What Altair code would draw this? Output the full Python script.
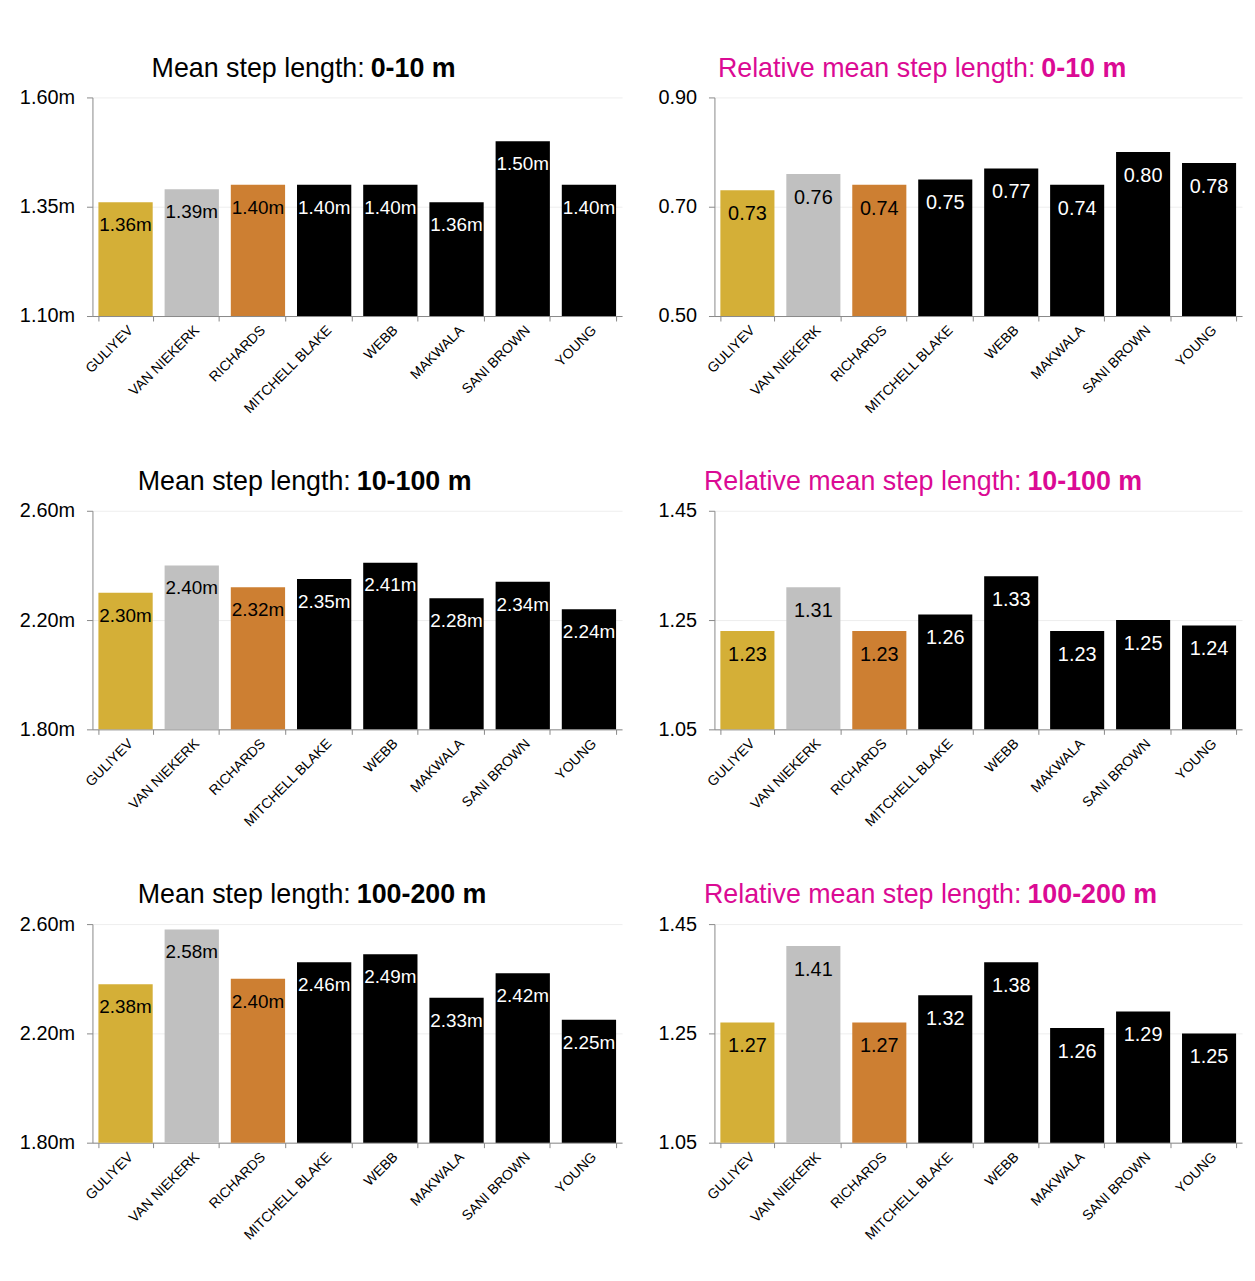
import altair as alt
import pandas as pd

players = ["GULIYEV", "VAN NIEKERK", "RICHARDS", "MITCHELL BLAKE",
           "WEBB", "MAKWALA", "SANI BROWN", "YOUNG"]
bar_colors = ["#D4AF37", "#C0C0C0", "#CD7F32", "#000000",
              "#000000", "#000000", "#000000", "#000000"]
text_colors = ["#000000", "#000000", "#000000", "#FFFFFF",
               "#FFFFFF", "#FFFFFF", "#FFFFFF", "#FFFFFF"]

msl_0_10 = [1.36, 1.39, 1.40, 1.40, 1.40, 1.36, 1.50, 1.40]
rel_0_10 = [0.73, 0.76, 0.74, 0.75, 0.77, 0.74, 0.80, 0.78]
msl_10_100 = [2.30, 2.40, 2.32, 2.35, 2.41, 2.28, 2.34, 2.24]
rel_10_100 = [1.23, 1.31, 1.23, 1.26, 1.33, 1.23, 1.25, 1.24]
msl_100_200 = [2.38, 2.58, 2.40, 2.46, 2.49, 2.33, 2.42, 2.25]
rel_100_200 = [1.27, 1.41, 1.27, 1.32, 1.38, 1.26, 1.29, 1.25]

abs_ticks_0_10 = [1.10, 1.35, 1.60]
abs_ticks = [1.80, 2.20, 2.60]
rel_ticks_0_10 = [0.50, 0.70, 0.90]
rel_ticks = [1.05, 1.25, 1.45]

FONT = "Liberation Sans"
PINK = "#DB0A94"


def panel(values, ticks, suffix, t_normal, t_bold, t_color, split_x,
          label_size, label_dy, width, height):
    df = pd.DataFrame({
        "player": players,
        "value": values,
        "color": bar_colors,
        "tcolor": text_colors,
        "label": [f"{v:.2f}{suffix}" for v in values],
        "base": [ticks[0]] * len(values),
    })
    xenc = alt.X(
        "player:N", sort=players, title=None,
        scale=alt.Scale(paddingInner=0.18, paddingOuter=0.09),
        axis=alt.Axis(labelAngle=-45, labelFontSize=14, labelFont=FONT,
                      labelColor="#000000", tickBand="extent", tickSize=5,
                      tickColor="#888888", domainColor="#888888",
                      labelPadding=2, grid=False),
    )
    yenc = alt.Y(
        "value:Q", title=None,
        scale=alt.Scale(domain=[ticks[0], ticks[-1]], nice=False, zero=False),
        axis=alt.Axis(values=ticks,
                      labelExpr=f"format(datum.value, '.2f') + '{suffix}'",
                      labelFontSize=20, labelFont=FONT, labelColor="#000000",
                      tickSize=6, tickColor="#888888", domainColor="#888888",
                      labelPadding=12, grid=True, gridColor="#EEEEEE"),
    )
    base = alt.Chart(df)
    bars = base.mark_bar().encode(
        x=xenc, y=yenc, y2="base:Q",
        color=alt.Color("color:N", scale=None),
    )
    labels = base.mark_text(baseline="middle", dy=label_dy,
                            fontSize=label_size, font=FONT).encode(
        x=alt.X("player:N", sort=players),
        y=alt.Y("value:Q"),
        text="label:N",
        color=alt.Color("tcolor:N", scale=None),
    )
    tn = alt.Chart(pd.DataFrame({"t": [t_normal]})).mark_text(
        align="right", baseline="middle", fontSize=27, font=FONT,
        color=t_color).encode(
        text="t:N", x=alt.value(split_x - 3), y=alt.value(-29))
    tb = alt.Chart(pd.DataFrame({"t": [t_bold]})).mark_text(
        align="left", baseline="middle", fontSize=27, font=FONT,
        fontWeight="bold", color=t_color).encode(
        text="t:N", x=alt.value(split_x + 3), y=alt.value(-29))
    return alt.layer(bars, labels, tn, tb).properties(width=width, height=height)


LW, RW, H = 533, 531, 220

row1 = alt.hconcat(
    panel(msl_0_10, abs_ticks_0_10, "m", "Mean step length:", "0-10 m",
          "#000000", 277, 19, 23, LW, H),
    panel(rel_0_10, rel_ticks_0_10, "", "Relative mean step length:", "0-10 m",
          PINK, 326, 20, 24, RW, H),
    spacing=36,
)
row2 = alt.hconcat(
    panel(msl_10_100, abs_ticks, "m", "Mean step length:", "10-100 m",
          "#000000", 263, 19, 23, LW, H),
    panel(rel_10_100, rel_ticks, "", "Relative mean step length:", "10-100 m",
          PINK, 312, 20, 24, RW, H),
    spacing=36,
)
row3 = alt.hconcat(
    panel(msl_100_200, abs_ticks, "m", "Mean step length:", "100-200 m",
          "#000000", 263, 19, 23, LW, H),
    panel(rel_100_200, rel_ticks, "", "Relative mean step length:", "100-200 m",
          PINK, 312, 20, 24, RW, H),
    spacing=36,
)

chart = alt.vconcat(row1, row2, row3, spacing=52).properties(
    padding={"left": 11, "top": 43, "right": 5, "bottom": 5},
    background="#FFFFFF",
).configure_view(strokeWidth=0)

chart.save("out.html", embed_options={"renderer": "svg", "actions": False})
